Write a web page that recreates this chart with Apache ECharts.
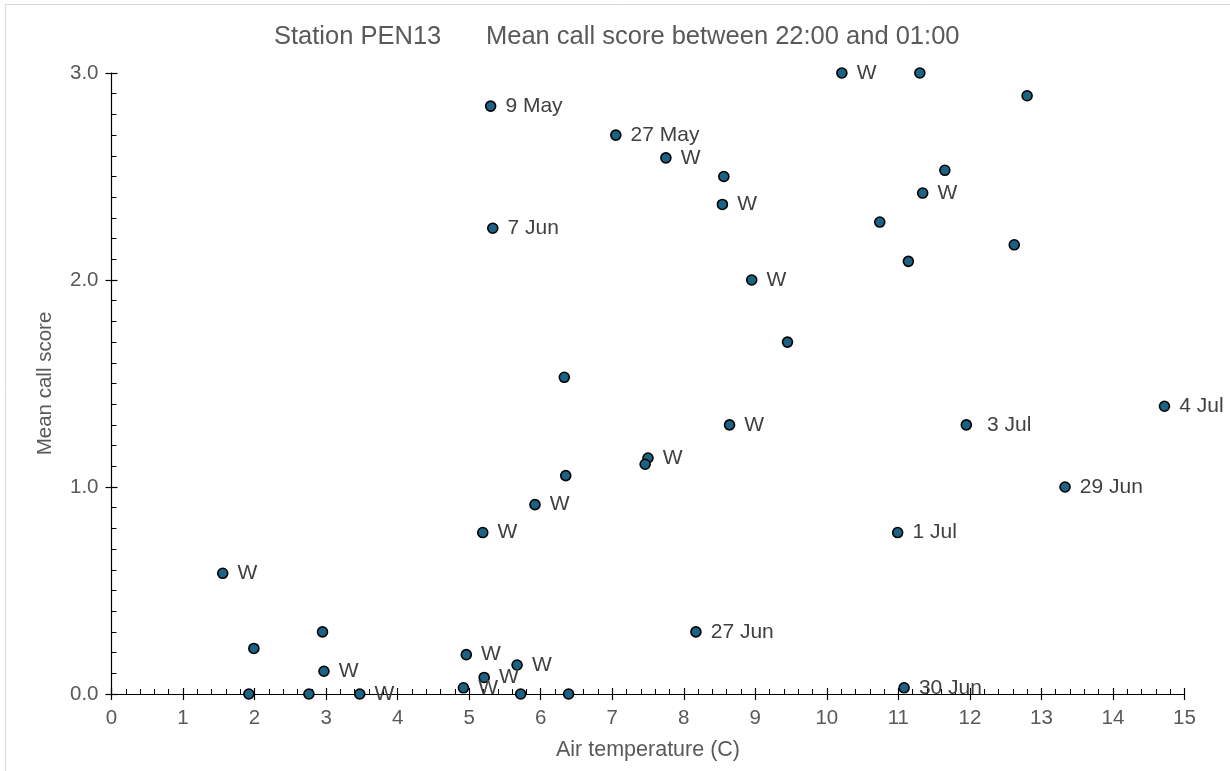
<!DOCTYPE html>
<html>
<head>
<meta charset="utf-8">
<script src="https://cdn.jsdelivr.net/npm/echarts@6/dist/echarts.min.js"></script>
<style>
html,body{margin:0;padding:0;background:#fff;}
#chart{width:1230px;height:771px;}
</style>
</head>
<body>
<div id="chart"></div>
<script>
// Air temperature (C)
const temps = [
  5.30, 7.05, 7.75, 8.56, 8.54, 5.33, 8.95, 10.21, 11.30, 12.80,
  11.65, 11.34, 10.74, 12.62, 11.14, 9.45, 6.33, 8.64, 7.50, 7.46,
  6.35, 5.92, 5.19, 11.95, 14.72, 13.33, 10.99, 1.555, 1.99, 2.95,
  2.97, 1.92, 2.76, 3.47, 4.96, 4.92, 5.21, 5.67, 5.72, 6.39,
  8.17, 11.08
];
// Mean call score
const scores = [
  2.84, 2.70, 2.59, 2.50, 2.365, 2.25, 2.00, 3.00, 3.00, 2.89,
  2.53, 2.42, 2.28, 2.17, 2.09, 1.70, 1.53, 1.30, 1.14, 1.11,
  1.055, 0.915, 0.78, 1.30, 1.39, 1.00, 0.78, 0.583, 0.22, 0.30,
  0.11, 0.00, 0.00, 0.00, 0.19, 0.03, 0.08, 0.14, 0.00, 0.00,
  0.30, 0.03
];
// Point labels
const pointLabels = [
  '9 May', '27 May', 'W', '', 'W', '7 Jun', 'W', 'W', '', '',
  '', 'W', '', '', '', '', '', 'W', 'W', '',
  '', 'W', 'W', ' 3 Jul', '4 Jul', '29 Jun', '1 Jul', 'W', '', '',
  'W', '', '', 'W', 'W', 'W', 'W', 'W', '', '',
  '27 Jun', '30 Jun'
];
const titleLeft = 'Station PEN13';
const titleRight = 'Mean call score between 22:00 and 01:00';
const xName = 'Air temperature (C)';
const yName = 'Mean call score';

const points = temps.map((t, i) => [t, scores[i]]);

const FONT = '"Liberation Sans", Arial, sans-serif';
const chart = echarts.init(document.getElementById('chart'), null, {renderer: 'canvas'});

const gridBox = {left: 111.5, right: 45.5, top: 73, bottom: 77};

chart.setOption({
  animation: false,
  backgroundColor: '#ffffff',
  graphic: [{
    type: 'rect',
    shape: {x: 5.5, y: 4.5, width: 1300, height: 800},
    style: {fill: 'none', stroke: '#d9d9d9', lineWidth: 1},
    silent: true, z: -10
  }],
  title: [
    {text: titleLeft, left: 269, top: 19,
     textStyle: {fontFamily: FONT, fontSize: 25.5, fontWeight: 'normal', color: '#595959'}},
    {text: titleRight, left: 481, top: 19,
     textStyle: {fontFamily: FONT, fontSize: 25.5, fontWeight: 'normal', color: '#595959'}}
  ],
  grid: Object.assign({containLabel: false}, gridBox),
  xAxis: [{
    type: 'value', min: 0, max: 15, interval: 1,
    name: xName, nameLocation: 'middle', nameGap: 45,
    nameTextStyle: {fontFamily: FONT, fontSize: 21.5, color: '#595959'},
    axisLine: {show: true, onZero: false, lineStyle: {color: '#000', width: 1.2}},
    axisTick: {show: true, inside: false, length: 6, lineStyle: {color: '#000', width: 1.2}},
    minorTick: {show: false},
    axisLabel: {fontFamily: FONT, fontSize: 20.5, color: '#595959', margin: 14},
    splitLine: {show: false}
  }, {
    type: 'value', min: 0, max: 15, interval: 1, position: 'bottom',
    axisLine: {show: false, onZero: false},
    axisTick: {show: true, inside: true, length: 6, lineStyle: {color: '#000', width: 1.2}},
    minorTick: {show: true, splitNumber: 5, length: 5, lineStyle: {color: '#000', width: 1}},
    axisLabel: {show: false},
    splitLine: {show: false}
  }],
  yAxis: [{
    type: 'value', min: 0, max: 3, interval: 1,
    name: yName, nameLocation: 'middle', nameGap: 56, nameRotate: 90,
    nameTextStyle: {fontFamily: FONT, fontSize: 20.5, color: '#595959'},
    axisLine: {show: true, onZero: false, lineStyle: {color: '#000', width: 1.2}},
    axisTick: {show: true, inside: false, length: 6, lineStyle: {color: '#000', width: 1.2}},
    minorTick: {show: false},
    axisLabel: {fontFamily: FONT, fontSize: 20.5, color: '#595959', margin: 13,
      formatter: v => v.toFixed(1)},
    splitLine: {show: false}
  }, {
    type: 'value', min: 0, max: 3, interval: 1, position: 'left',
    axisLine: {show: false, onZero: false},
    axisTick: {show: true, inside: true, length: 6, lineStyle: {color: '#000', width: 1.2}},
    minorTick: {show: true, splitNumber: 10, length: 5, lineStyle: {color: '#000', width: 1}},
    axisLabel: {show: false},
    splitLine: {show: false}
  }],
  series: [{
    type: 'scatter',
    xAxisIndex: 0, yAxisIndex: 0,
    data: points,
    symbol: 'circle',
    symbolSize: 10,
    itemStyle: {color: '#1b6285', borderColor: '#000', borderWidth: 1.6, opacity: 1},
    label: {
      show: true, position: 'right', distance: 9,
      fontFamily: FONT, fontSize: 21, color: '#404040',
      formatter: p => pointLabels[p.dataIndex]
    },
    emphasis: {disabled: true},
    z: 5
  }]
});
</script>
</body>
</html>
